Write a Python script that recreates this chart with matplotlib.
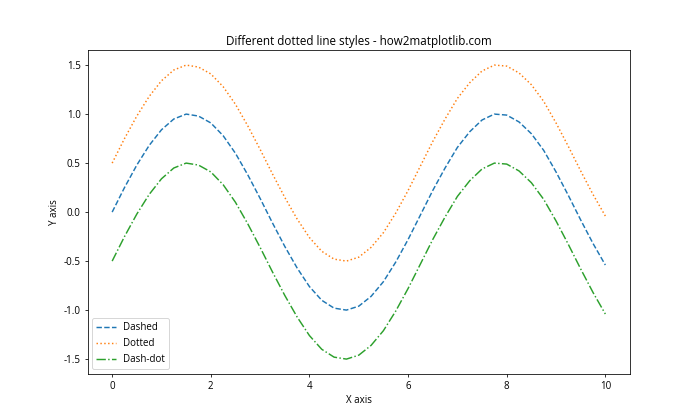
import numpy as np
import matplotlib
matplotlib.use('Agg')
import matplotlib.pyplot as plt

plt.rcParams['font.family'] = ['Open Sans', 'DejaVu Sans']
plt.rcParams['axes.unicode_minus'] = False

# x positions (step 0.25 from 0 to 10)
x = [0.0, 0.25, 0.5, 0.75, 1.0, 1.25, 1.5, 1.75, 2.0, 2.25,
     2.5, 2.75, 3.0, 3.25, 3.5, 3.75, 4.0, 4.25, 4.5, 4.75,
     5.0, 5.25, 5.5, 5.75, 6.0, 6.25, 6.5, 6.75, 7.0, 7.25,
     7.5, 7.75, 8.0, 8.25, 8.5, 8.75, 9.0, 9.25, 9.5, 9.75, 10.0]

dashed = [0.00, 0.25, 0.48, 0.68, 0.84, 0.95, 1.00, 0.98, 0.91, 0.78,
          0.60, 0.38, 0.14, -0.11, -0.35, -0.57, -0.76, -0.90, -0.98, -1.00,
          -0.96, -0.86, -0.71, -0.51, -0.28, -0.03, 0.22, 0.45, 0.66, 0.82,
          0.94, 1.00, 0.99, 0.92, 0.80, 0.63, 0.41, 0.17, -0.08, -0.32, -0.54]

dotted = [0.50, 0.75, 0.98, 1.18, 1.34, 1.45, 1.50, 1.48, 1.41, 1.28,
          1.10, 0.88, 0.64, 0.39, 0.15, -0.07, -0.26, -0.40, -0.48, -0.50,
          -0.46, -0.36, -0.21, -0.01, 0.22, 0.47, 0.72, 0.95, 1.16, 1.32,
          1.44, 1.50, 1.49, 1.42, 1.30, 1.13, 0.91, 0.67, 0.42, 0.18, -0.04]

dashdot = [-0.50, -0.25, -0.02, 0.18, 0.34, 0.45, 0.50, 0.48, 0.41, 0.28,
           0.10, -0.12, -0.36, -0.61, -0.85, -1.07, -1.26, -1.40, -1.48, -1.50,
           -1.46, -1.36, -1.21, -1.01, -0.78, -0.53, -0.28, -0.05, 0.16, 0.32,
           0.44, 0.50, 0.49, 0.42, 0.30, 0.13, -0.09, -0.33, -0.58, -0.82, -1.04]

# 10x6 inch figure saved at 70 dpi -> 700x420 px
fig = plt.figure(figsize=(10, 6), dpi=70)
plt.plot(x, dashed, linestyle='--', label='Dashed')
plt.plot(x, dotted, linestyle=':', label='Dotted')
plt.plot(x, dashdot, linestyle='-.', label='Dash-dot')

plt.title('Different dotted line styles - how2matplotlib.com')
plt.xlabel('X axis')
plt.ylabel('Y axis')
plt.legend(loc='lower left')

plt.savefig('out.png', dpi=70)
